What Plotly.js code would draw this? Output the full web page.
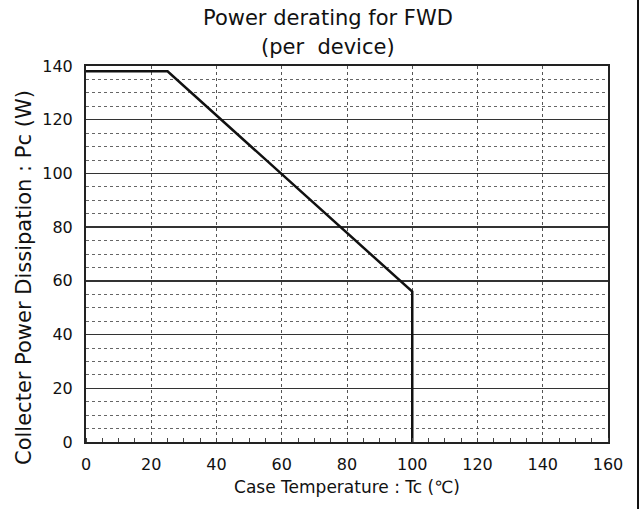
<!DOCTYPE html>
<html><head><meta charset="utf-8">
<script src="https://cdn.plot.ly/plotly-3.0.1.min.js"></script>
<style>html,body{margin:0;padding:0;background:#fff}#c{width:641px;height:509px}</style>
</head><body><div id="c"></div>
<script>
const caseTemp = [0, 25, 100, 100];
const powerW = [138, 138, 56, 0];
const xTicks = [0, 20, 40, 60, 80, 100, 120, 140, 160];
const yTicks = [0, 20, 40, 60, 80, 100, 120, 140];
const titleLines = ['Power derating for FWD', '(per  device)'];
const xTitle = 'Case Temperature : Tc (℃)';
const yTitle = 'Collecter Power Dissipation : Pc (W)';

const font = 'DejaVu Sans, sans-serif';
Plotly.newPlot('c', [{
  x: caseTemp, y: powerW, type: 'scatter', mode: 'lines',
  line: {color: '#111', width: 2.5}, hoverinfo: 'skip'
}], {
  width: 641, height: 509,
  margin: {l: 86, r: 33, t: 66, b: 67},
  paper_bgcolor: '#fff', plot_bgcolor: '#fff',
  showlegend: false,
  xaxis: {range: [0, 160], tickvals: xTicks, ticktext: xTicks.map(String), showgrid: true,
          gridcolor: '#555', griddash: 'dot', gridwidth: 1,
          showline: true, linecolor: '#222', linewidth: 2, mirror: true, zeroline: false,
          ticks: '', ticklen: 0, ticklabelstandoff: 7, tickfont: {family: font, size: 16, color: '#111'},
          minor: {dtick: 5, ticks: 'inside', ticklen: 4, tickcolor: '#444', showgrid: false},
          title: {text: xTitle, font: {family: font, size: 17, color: '#111'}, standoff: 8}},
  yaxis: {range: [0, 140], tickvals: yTicks, ticktext: yTicks.map(String), showgrid: true,
          gridcolor: '#333', gridwidth: 1.5,
          showline: true, linecolor: '#222', linewidth: 2, mirror: true, zeroline: false,
          ticks: '', ticklabelstandoff: 8, tickfont: {family: font, size: 16, color: '#111'},
          minor: {dtick: 5, showgrid: true, gridcolor: '#666', griddash: 'dot', gridwidth: 1}},
  annotations: [
    {text: titleLines[0], xref: 'paper', yref: 'paper', x: 0.4636, y: 1.1277, xanchor: 'center', yanchor: 'middle',
     showarrow: false, font: {family: font, size: 21, color: '#111'}},
    {text: titleLines[1], xref: 'paper', yref: 'paper', x: 0.4636, y: 1.0505, xanchor: 'center', yanchor: 'middle',
     showarrow: false, font: {family: font, size: 21, color: '#111'}},
    {text: yTitle, xref: 'paper', yref: 'paper', x: -0.1188, y: 0.4388, xanchor: 'center', yanchor: 'middle',
     textangle: -90, showarrow: false, font: {family: font, size: 21, color: '#111'}}
  ],
  shapes: [{type: 'line', xref: 'paper', yref: 'paper', x0: 1.0575, x1: 1.0575, y0: -0.2, y1: 1.2,
            line: {color: '#111', width: 2}}]
}, {staticPlot: true});
</script></body></html>
